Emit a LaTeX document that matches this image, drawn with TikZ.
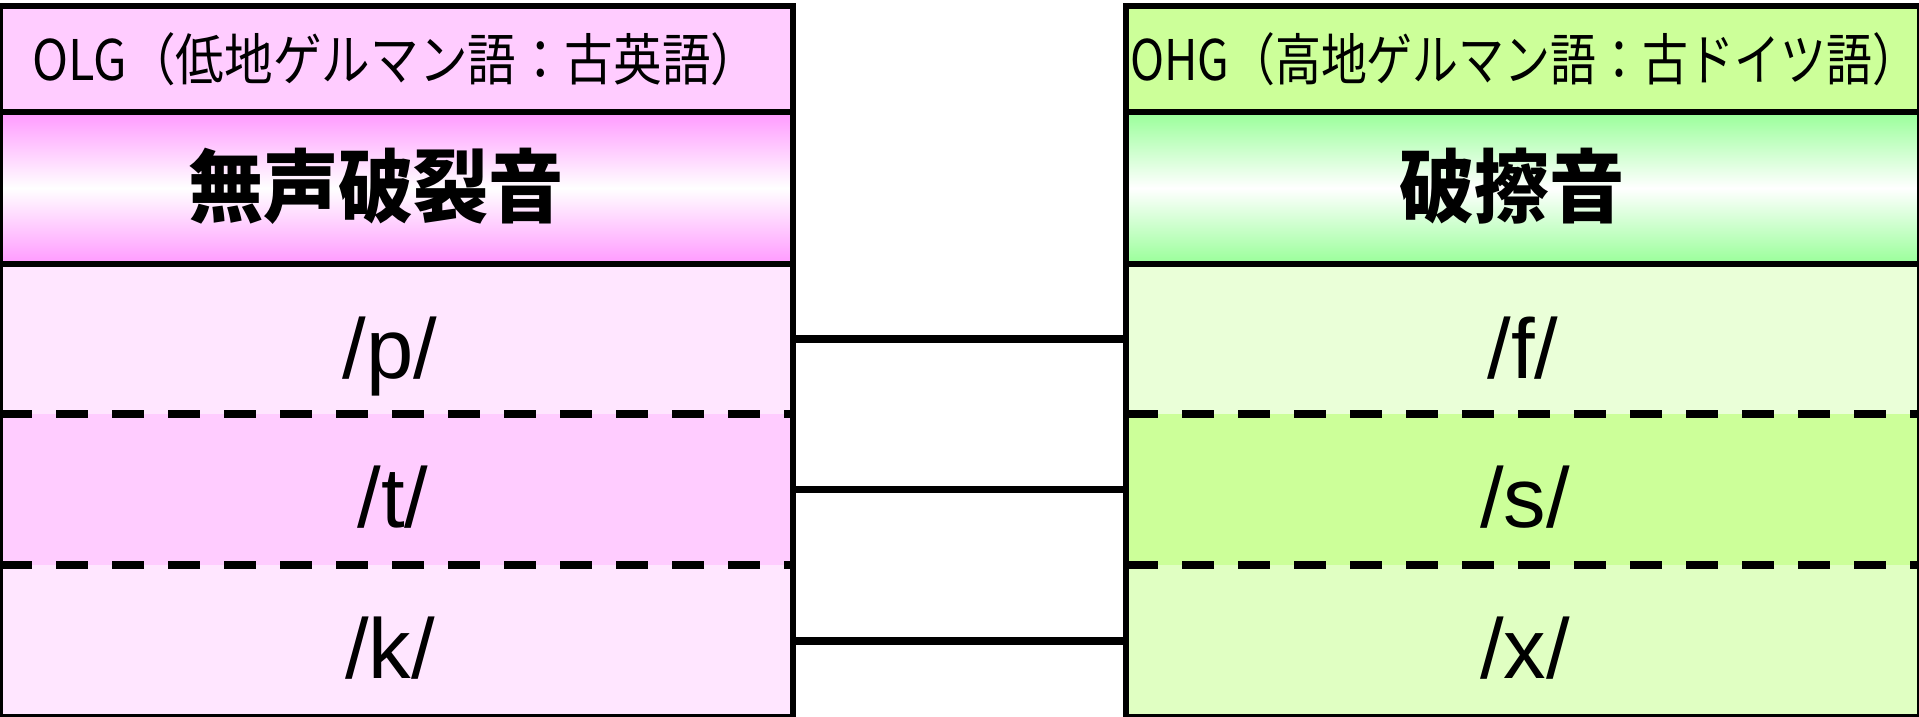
\documentclass[tikz,border=0pt]{standalone}
\usepackage{fontspec}
\setmainfont{Liberation Sans}
\newfontfamily\jp{Noto Sans CJK JP}
\definecolor{lhead}{RGB}{255,204,255}
\definecolor{lgrad}{RGB}{255,153,255}
\definecolor{lrowa}{RGB}{255,230,255}
\definecolor{lrowb}{RGB}{255,204,255}
\definecolor{rhead}{RGB}{204,255,153}
\definecolor{rgrad}{RGB}{153,255,153}
\definecolor{rrowa}{RGB}{234,255,216}
\definecolor{rrowb}{RGB}{204,255,153}
\definecolor{rrowc}{RGB}{224,255,194}
\tikzset{
  cell/.style={rectangle, inner sep=0pt, outer sep=0pt, anchor=north west, draw=none},
  lcol/.style={cell, minimum width=396.5pt},
  rcol/.style={cell, minimum width=397pt},
  headtxt/.style={font=\jp\fontsize{28pt}{28pt}\selectfont, inner sep=0pt},
  titletxt/.style={font=\jp\bfseries\fontsize{40pt}{40pt}\selectfont, inner sep=0pt},
  photxt/.style={font=\fontsize{42.5pt}{42.5pt}\selectfont, inner sep=0pt, anchor=base},
  border/.style={line width=3.3pt},
  conn/.style={line width=3.8pt},
  dashline/.style={line width=3.7pt, dash pattern=on 16pt off 12pt}
}
\begin{document}
\begin{tikzpicture}[x=0.5pt,y=-0.5pt]
\useasboundingbox (0,0) rectangle (1919,717);
% left column
\node[lcol, fill=lhead, minimum height=53pt] (lh) at (0,6) {};
\node[lcol, top color=lgrad, bottom color=lgrad, middle color=white, minimum height=76pt] (lt) at (0,112) {};
\node[lcol, fill=lrowa, minimum height=75pt] (lp) at (0,264) {};
\node[lcol, fill=lrowb, minimum height=75.5pt] (ltt) at (0,414) {};
\node[lcol, fill=lrowa, minimum height=76pt] (lk) at (0,565) {};
% right column
\node[rcol, fill=rhead, minimum height=53pt] (rh) at (1126,6) {};
\node[rcol, top color=rgrad, bottom color=rgrad, middle color=white, minimum height=76pt] (rt) at (1126,112) {};
\node[rcol, fill=rrowa, minimum height=75pt] (rf) at (1126,264) {};
\node[rcol, fill=rrowb, minimum height=75.5pt] (rs) at (1126,414) {};
\node[rcol, fill=rrowc, minimum height=76pt] (rx) at (1126,565) {};
% texts
\node[headtxt] (lhtext) at (396,59) {\scalebox{0.868}[1]{OLG（低地ゲルマン語：古英語）}};
\node[headtxt] (rhtext) at (1524,59) {\scalebox{0.82}[1]{OHG（高地ゲルマン語：古ドイツ語）}};
\node[titletxt] (lttext) at (376,186) {\scalebox{0.94}[1]{無声破裂音}};
\node[titletxt] (rttext) at (1512,186) {\scalebox{0.94}[1]{破擦音}};
\node[photxt] (ptext) at (390,378) {/p/};
\node[photxt] (ttext) at (393,527) {/t/};
\node[photxt] (ktext) at (390,678) {/k/};
\node[photxt] (ftext) at (1523,378) {/f/};
\node[photxt] (stext) at (1525,527) {/s/};
\node[photxt] (xtext) at (1525,678) {/x/};
% dashed separators
\draw[dashline] (ltt.north west) -- (ltt.north east);
\draw[dashline] (ltt.south west) -- (ltt.south east);
\draw[dashline] (rs.north west) -- (rs.north east);
\draw[dashline] (rs.south west) -- (rs.south east);
% borders
\draw[border] (lh.north west) rectangle (lh.south east);
\draw[border] (lt.north west) rectangle (lt.south east);
\draw[border] (lp.north west) rectangle (lk.south east);
\draw[border] (rh.north west) rectangle (rh.south east);
\draw[border] (rt.north west) rectangle (rt.south east);
\draw[border] (rf.north west) rectangle (rx.south east);
% connectors
\draw[conn] (lp.east) -- (rf.west);
\draw[conn] (ltt.east) -- (rs.west);
\draw[conn] (lk.east) -- (rx.west);
\end{tikzpicture}
\end{document}
